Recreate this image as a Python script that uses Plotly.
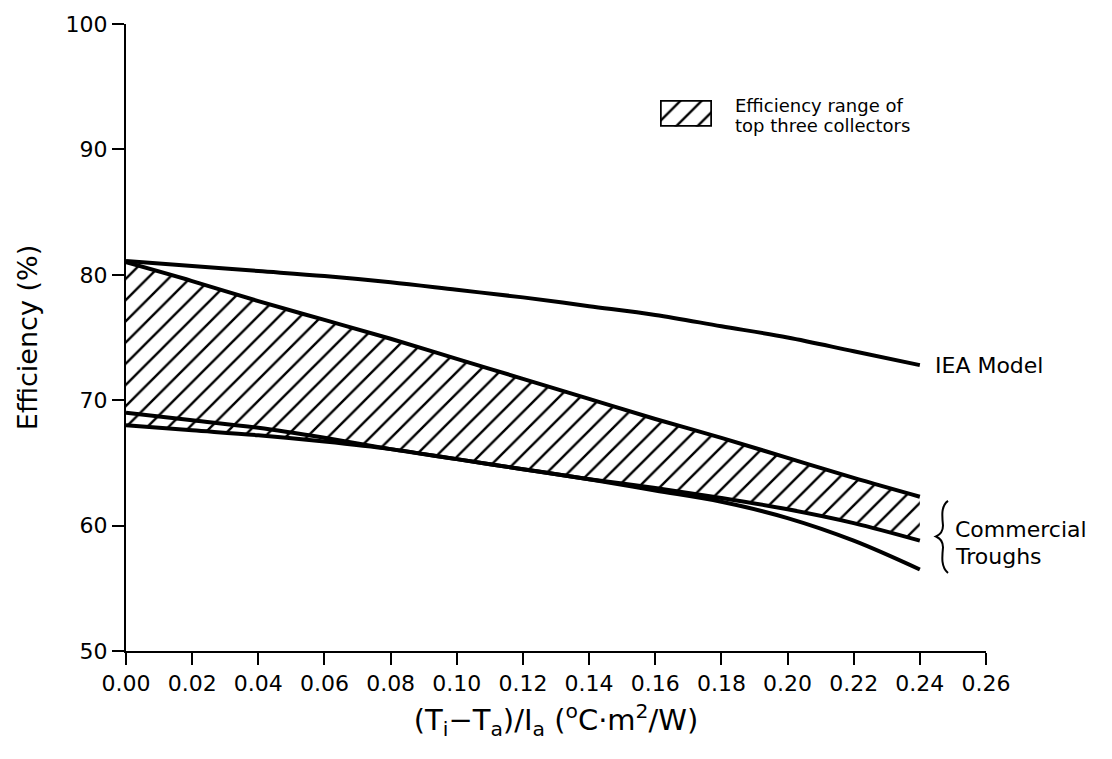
import plotly.graph_objects as go

# Inlet-ambient temperature difference over irradiance, (Ti - Ta)/Ia  [°C·m²/W]
x_vals = [0.00, 0.02, 0.04, 0.06, 0.08, 0.10, 0.12, 0.14, 0.16, 0.18, 0.20, 0.22, 0.24]

# Efficiency (%) of the IEA model collector
iea_model = [81.1, 80.7, 80.3, 79.9, 79.4, 78.8, 78.2, 77.5, 76.8, 75.9, 75.0, 73.9, 72.8]

# Upper edge of the range of the top three collectors
band_top = [81.0, 79.5, 77.9, 76.4, 74.9, 73.3, 71.7, 70.1, 68.5, 67.0, 65.4, 63.8, 62.3]

# Commercial trough curves
trough_a = [69.0, 68.4, 67.8, 67.0, 66.1, 65.3, 64.5, 63.7, 63.0, 62.2, 61.3, 60.2, 58.8]
trough_b = [68.0, 67.6, 67.2, 66.7, 66.1, 65.3, 64.5, 63.7, 62.8, 61.9, 60.6, 58.8, 56.5]

x_ticks = [0.00, 0.02, 0.04, 0.06, 0.08, 0.10, 0.12, 0.14, 0.16, 0.18, 0.20, 0.22, 0.24, 0.26]
y_ticks = [50, 60, 70, 80, 90, 100]

FONT = "DejaVu Sans"
hatch = dict(shape="/", size=15, solidity=0.16, fgcolor="black", fgopacity=1,
             bgcolor="white")

# lower edge of the shaded range: lowest trough on the left, trough A on the right
band_bottom = [b if xv < 0.12 else a for xv, a, b in zip(x_vals, trough_a, trough_b)]

fig = go.Figure()

fig.add_trace(go.Scatter(x=x_vals, y=band_bottom, mode="lines",
                         line=dict(width=0, shape="spline", color="black"),
                         hoverinfo="skip", showlegend=False))
fig.add_trace(go.Scatter(x=x_vals, y=band_top, mode="lines", fill="tonexty",
                         fillcolor="white", fillpattern=hatch,
                         line=dict(width=4, shape="spline", color="black"),
                         name="Efficiency range of top three collectors", showlegend=False))
for series in (trough_a, trough_b, iea_model):
    fig.add_trace(go.Scatter(x=x_vals, y=series, mode="lines",
                             line=dict(width=4, shape="spline", color="black"),
                             showlegend=False))

# hatched key box, drawn on its own small axes
fig.add_trace(go.Scatter(x=[0, 1, 1, 0, 0], y=[0, 0, 1, 1, 0], mode="lines",
                         fill="toself", fillcolor="white", fillpattern=hatch,
                         line=dict(width=3.5, color="black"),
                         xaxis="x2", yaxis="y2", showlegend=False, hoverinfo="skip"))

# plot-area geometry in pixels (used to place the decorations)
L, R, T, B = 126, 986, 16, 651


def px(xp):
    return (xp - L) / (R - L)


def py(yp):
    return (B - yp) / (B - T)


axis_common = dict(showgrid=False, zeroline=False, showline=True, linecolor="black",
                   linewidth=2, ticks="outside", ticklen=12, tickwidth=2,
                   tickcolor="black", mirror=False)

fig.update_layout(
    width=1112, height=759,
    margin=dict(l=L, r=1112 - R, t=T, b=759 - B),
    paper_bgcolor="white", plot_bgcolor="white",
    font=dict(family=FONT, color="black"),
    xaxis=dict(range=[0, 0.26], tickvals=x_ticks,
               ticktext=[f"{v:.2f}" for v in x_ticks],
               tickfont=dict(size=22, family=FONT),
               title=dict(text="(T<sub>i</sub>\u2212T<sub>a</sub>)/I<sub>a</sub> (<sup>o</sup>C\u00b7m<sup>2</sup>/W)",
                          font=dict(size=29, family=FONT), standoff=14),
               **axis_common),
    yaxis=dict(range=[50, 100], tickvals=y_ticks,
               tickfont=dict(size=22, family=FONT),
               title=dict(text="Efficiency (%)", font=dict(size=27, family=FONT), standoff=20),
               **axis_common),
    xaxis2=dict(domain=[px(660), px(712)], range=[0, 1], visible=False, anchor="y2"),
    yaxis2=dict(domain=[py(120), py(93)], range=[0, 1], visible=False, anchor="x2"),
)

fig.add_annotation(x=px(733), y=py(99), xref="paper", yref="paper",
                   text="Efficiency range of", showarrow=False,
                   xanchor="left", yanchor="middle", font=dict(size=18, family=FONT))
fig.add_annotation(x=px(733), y=py(119), xref="paper", yref="paper",
                   text="top three collectors", showarrow=False,
                   xanchor="left", yanchor="middle", font=dict(size=18, family=FONT))

fig.add_annotation(x=x_vals[-1], y=iea_model[-1], xref="x", yref="y",
                   text="IEA Model", showarrow=False, xanchor="left", yanchor="middle",
                   xshift=13, font=dict(size=22, family=FONT))

fig.add_annotation(x=px(953), y=py(528), xref="paper", yref="paper",
                   text="Commercial", showarrow=False, xanchor="left", yanchor="middle",
                   font=dict(size=22, family=FONT))
fig.add_annotation(x=px(953), y=py(555), xref="paper", yref="paper",
                   text="Troughs", showarrow=False, xanchor="left", yanchor="middle",
                   font=dict(size=22, family=FONT))

# curly brace grouping the two trough curves
brace_pts = [(948, 499), (941, 504), (942, 514), (943, 524), (936, 535),
             (943, 546), (942, 556), (941, 566), (948, 572)]
path = "M {} {}".format(px(brace_pts[0][0]), py(brace_pts[0][1]))
path += " C {} {}, {} {}, {} {}".format(px(brace_pts[1][0]), py(brace_pts[1][1]),
                                        px(brace_pts[2][0]), py(brace_pts[2][1]),
                                        px(brace_pts[3][0]), py(brace_pts[3][1]))
path += " Q {} {}, {} {}".format(px(brace_pts[3][0]), py(brace_pts[4][1] - 3),
                                 px(brace_pts[4][0]), py(brace_pts[4][1]))
path += " Q {} {}, {} {}".format(px(brace_pts[5][0]), py(brace_pts[4][1] + 3),
                                 px(brace_pts[5][0]), py(brace_pts[5][1]))
path += " C {} {}, {} {}, {} {}".format(px(brace_pts[6][0]), py(brace_pts[6][1]),
                                        px(brace_pts[7][0]), py(brace_pts[7][1]),
                                        px(brace_pts[8][0]), py(brace_pts[8][1]))
fig.add_shape(type="path", path=path, xref="paper", yref="paper",
              line=dict(color="black", width=2))

fig.write_html("out.html")
